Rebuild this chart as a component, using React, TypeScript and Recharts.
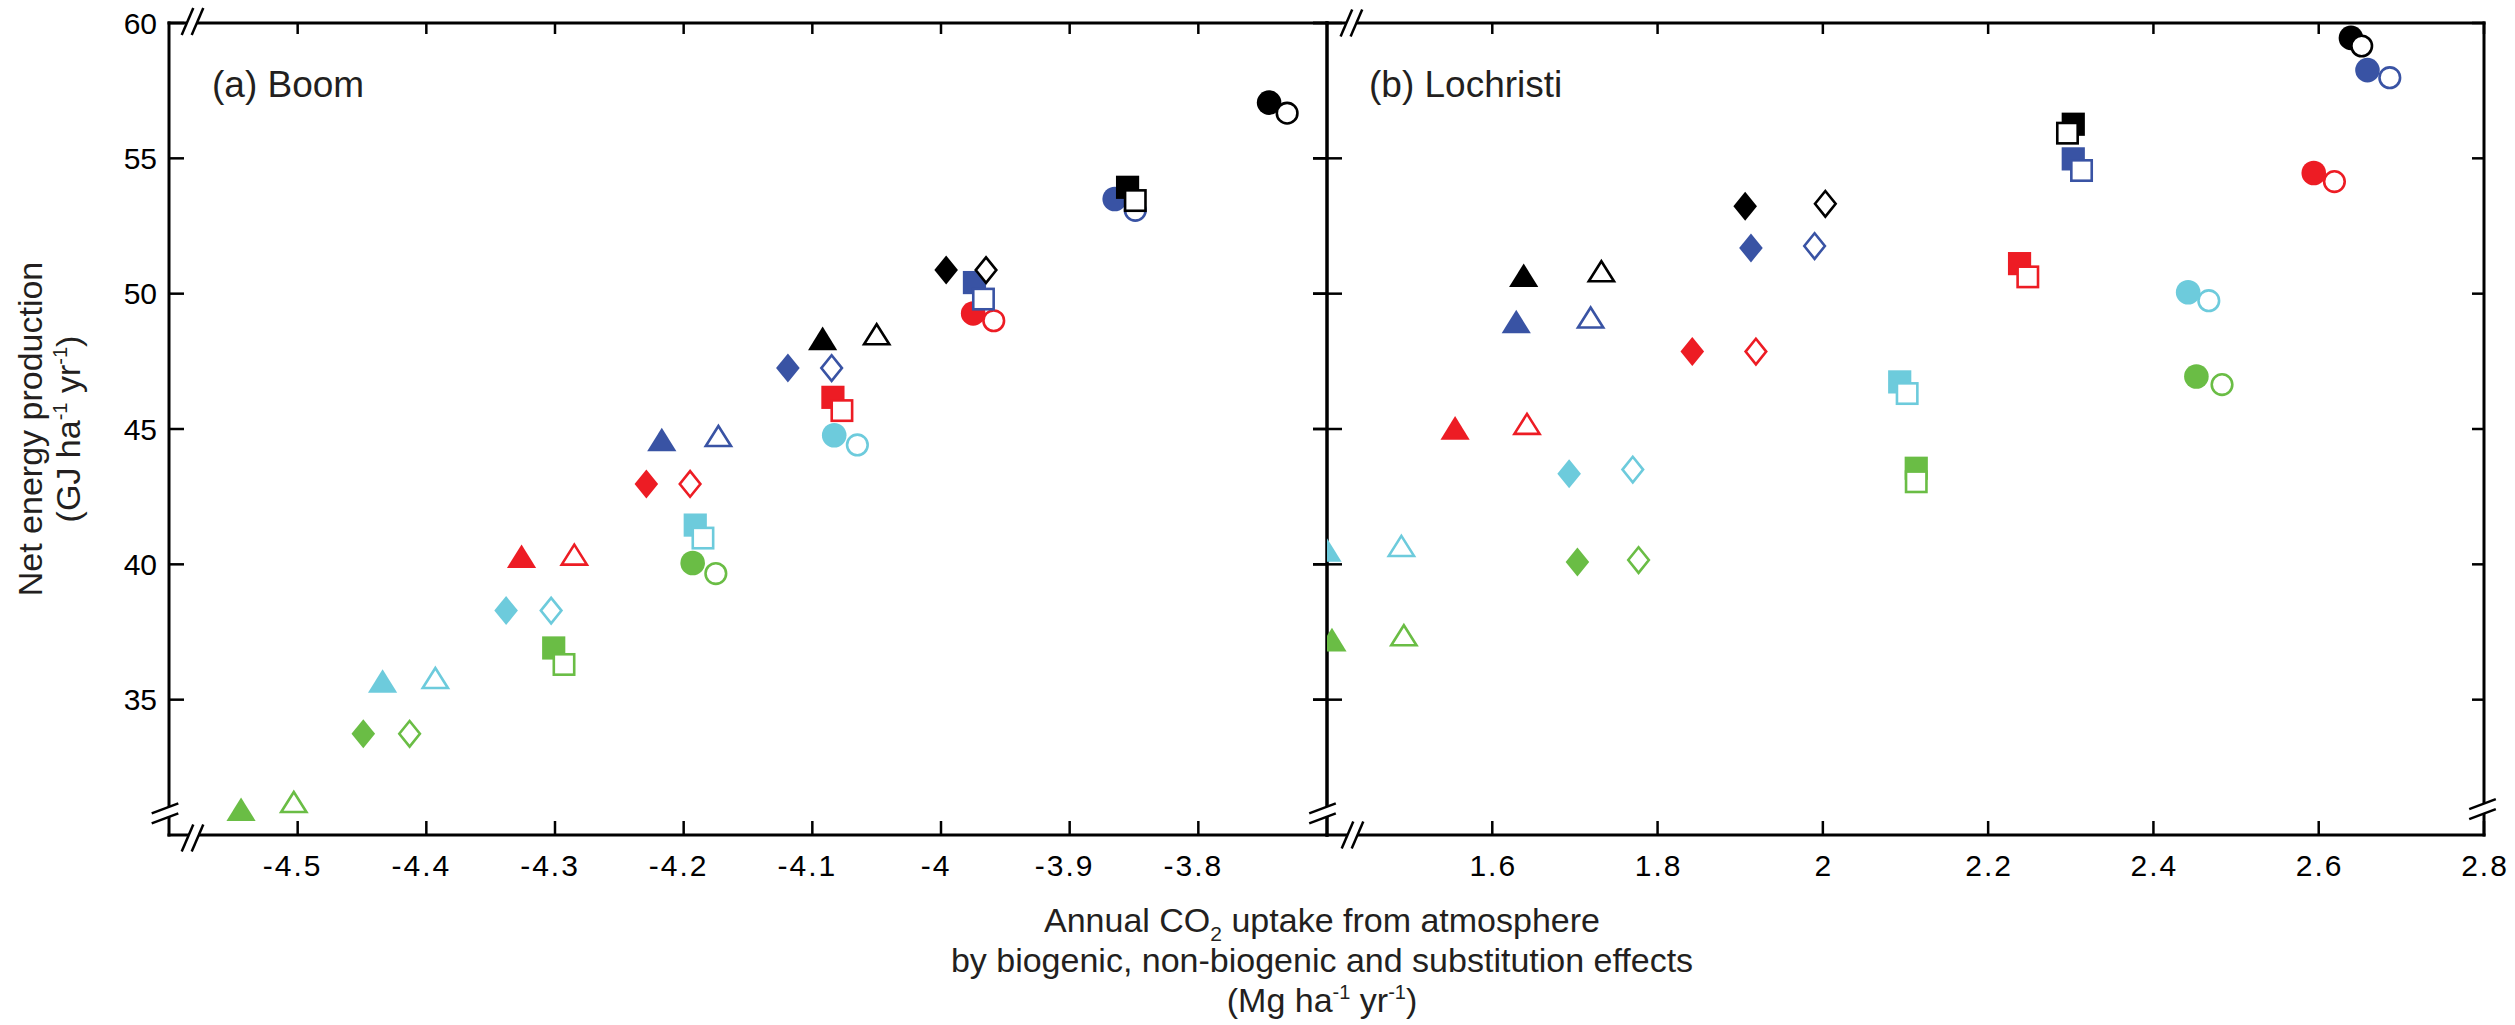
import React from 'react';
import { ScatterChart, Scatter, XAxis, YAxis, ReferenceDot } from 'recharts';

const FONT = '"Liberation Sans", Arial, Helvetica, sans-serif';
const INK = '#000000';
const TITLE_INK = '#231f20';

// colours of the five series, in the order of every point array below
const seriesColors = ['#000000', '#3953a4', '#ed1c24', '#6dcbdc', '#6abd45'];

type Pt = [number, number];

// (a) Boom : [annual CO2 uptake, net energy production]
const boomCircleFilled: Pt[] = [[-3.745, 57.06], [-3.865, 53.5], [-3.975, 49.27], [-4.083, 44.77], [-4.193, 40.05]];
const boomCircleOpen: Pt[] = [[-3.731, 56.67], [-3.849, 53.08], [-3.959, 49.0], [-4.065, 44.41], [-4.175, 39.66]];
const boomSquareFilled: Pt[] = [[-3.855, 53.93], [-3.974, 50.41], [-4.084, 46.17], [-4.191, 41.45], [-4.301, 36.91]];
const boomSquareOpen: Pt[] = [[-3.849, 53.44], [-3.967, 49.8], [-4.077, 45.68], [-4.185, 40.97], [-4.293, 36.3]];
const boomDiamondFilled: Pt[] = [[-3.996, 50.87], [-4.119, 47.25], [-4.229, 42.97], [-4.338, 38.29], [-4.449, 33.74]];
const boomDiamondOpen: Pt[] = [[-3.965, 50.87], [-4.085, 47.25], [-4.195, 42.97], [-4.303, 38.29], [-4.413, 33.74]];
const boomTriangleFilled: Pt[] = [[-4.092, 48.35], [-4.217, 44.61], [-4.326, 40.3], [-4.434, 35.69], [-4.544, 30.95]];
const boomTriangleOpen: Pt[] = [[-4.05, 48.5], [-4.173, 44.74], [-4.285, 40.36], [-4.393, 35.8], [-4.503, 31.22]];

// (b) Lochristi
const lochCircleFilled: Pt[] = [[2.639, 59.45], [2.659, 58.26], [2.594, 54.46], [2.442, 50.05], [2.452, 46.94]];
const lochCircleOpen: Pt[] = [[2.652, 59.15], [2.686, 57.98], [2.619, 54.14], [2.467, 49.74], [2.483, 46.64]];
const lochSquareFilled: Pt[] = [[2.303, 56.26], [2.303, 54.98], [2.238, 51.11], [2.093, 46.74], [2.113, 43.55]];
const lochSquareOpen: Pt[] = [[2.296, 55.93], [2.313, 54.55], [2.248, 50.62], [2.102, 46.31], [2.113, 43.05]];
const lochDiamondFilled: Pt[] = [[1.906, 53.23], [1.913, 51.69], [1.842, 47.86], [1.693, 43.35], [1.703, 40.09]];
const lochDiamondOpen: Pt[] = [[2.003, 53.32], [1.99, 51.76], [1.919, 47.86], [1.77, 43.5], [1.777, 40.16]];
const lochTriangleFilled: Pt[] = [[1.638, 50.68], [1.629, 48.97], [1.555, 45.04], [1.4, 40.53], [1.406, 37.22]];
const lochTriangleOpen: Pt[] = [[1.732, 50.83], [1.719, 49.12], [1.642, 45.19], [1.49, 40.68], [1.493, 37.38]];

// axes
const yDomain: [number, number] = [30, 60];
const yTicks = [35, 40, 45, 50, 55, 60];
const boomXDomain: [number, number] = [-4.6, -3.7];
const boomXTicks = [-4.5, -4.4, -4.3, -4.2, -4.1, -4, -3.9, -3.8];
const lochXDomain: [number, number] = [1.4, 2.8];
const lochXTicks = [1.6, 1.8, 2, 2.2, 2.4, 2.6, 2.8];

type Shape = 'circle' | 'square' | 'diamond' | 'triangle';
type Group = { shape: Shape; filled: boolean; pts: Pt[] };

const boomGroups: Group[] = [
  { shape: 'circle', filled: true, pts: boomCircleFilled },
  { shape: 'circle', filled: false, pts: boomCircleOpen },
  { shape: 'square', filled: true, pts: boomSquareFilled },
  { shape: 'square', filled: false, pts: boomSquareOpen },
  { shape: 'diamond', filled: true, pts: boomDiamondFilled },
  { shape: 'diamond', filled: false, pts: boomDiamondOpen },
  { shape: 'triangle', filled: true, pts: boomTriangleFilled },
  { shape: 'triangle', filled: false, pts: boomTriangleOpen },
];
const lochGroups: Group[] = [
  { shape: 'circle', filled: true, pts: lochCircleFilled },
  { shape: 'circle', filled: false, pts: lochCircleOpen },
  { shape: 'square', filled: true, pts: lochSquareFilled },
  { shape: 'square', filled: false, pts: lochSquareOpen },
  { shape: 'diamond', filled: true, pts: lochDiamondFilled },
  { shape: 'diamond', filled: false, pts: lochDiamondOpen },
  { shape: 'triangle', filled: true, pts: lochTriangleFilled },
  { shape: 'triangle', filled: false, pts: lochTriangleOpen },
];

const toData = (pts: Pt[]) => pts.map(([x, y], i) => ({ x, y, color: seriesColors[i] }));

const makeShape = (shape: Shape, filled: boolean) => (props: any) => {
  const { cx, cy, payload } = props;
  if (cx == null || cy == null || isNaN(cx) || isNaN(cy)) return <g />;
  const color = payload.color;
  const fill = filled ? color : '#ffffff';
  const stroke = filled ? 'none' : color;
  const sw = filled ? 0 : 2.6;
  if (shape === 'circle') {
    return <circle cx={cx} cy={cy} r={filled ? 12.3 : 10.3} fill={fill} stroke={stroke} strokeWidth={sw} />;
  }
  if (shape === 'square') {
    const h = filled ? 11.6 : 10.2;
    return <rect x={cx - h} y={cy - h} width={2 * h} height={2 * h} fill={fill} stroke={stroke} strokeWidth={sw} />;
  }
  if (shape === 'diamond') {
    const w = filled ? 11.8 : 10.3;
    const h = filled ? 14.5 : 12.8;
    return (
      <polygon
        points={`${cx},${cy - h} ${cx + w},${cy} ${cx},${cy + h} ${cx - w},${cy}`}
        fill={fill}
        stroke={stroke}
        strokeWidth={sw}
      />
    );
  }
  const w = filled ? 14.6 : 12.6;
  const h = filled ? 11.8 : 10.0;
  return (
    <polygon
      points={`${cx},${cy - h} ${cx + w},${cy + h} ${cx - w},${cy + h}`}
      fill={fill}
      stroke={stroke}
      strokeWidth={sw}
    />
  );
};

const AXIS_LINE = { stroke: INK, strokeWidth: 3, strokeLinecap: 'square' as const };
const TICK_W = 2.5;

const bottomTick = (props: any) => {
  const { x, y, payload } = props;
  const v = payload.value as number;
  return (
    <g>
      <line x1={x} y1={y} x2={x} y2={y - 14} stroke={INK} strokeWidth={TICK_W} />
      <text
        x={x + (v < 0 ? -5 : 1)}
        y={y + 41}
        textAnchor="middle"
        fontSize={30}
        letterSpacing={2}
        fontFamily={FONT}
        fill={INK}
      >
        {String(v)}
      </text>
    </g>
  );
};

const topTick = (props: any) => {
  const { x, y } = props;
  return <line x1={x} y1={y} x2={x} y2={y + 11} stroke={INK} strokeWidth={TICK_W} />;
};

const makeLeftTick = (showLabel: boolean, outward: number) => (props: any) => {
  const { x, y, payload } = props;
  return (
    <g>
      <line x1={x - outward} y1={y} x2={x + 15} y2={y} stroke={INK} strokeWidth={TICK_W} />
      {showLabel ? (
        <text x={x - 12} y={y + 10.5} textAnchor="end" fontSize={30} fontFamily={FONT} fill={INK}>
          {String(payload.value)}
        </text>
      ) : null}
    </g>
  );
};

const makeRightTick = (len: number) => (props: any) => {
  const { x, y } = props;
  return <line x1={x} y1={y} x2={x - len} y2={y} stroke={INK} strokeWidth={TICK_W} />;
};

const XBreak = ({ x, y }: { x: number; y: number }) => (
  <g>
    <polygon points={`${x - 10.8},${y + 13.5} ${x + 0.8},${y - 13.5} ${x + 10.8},${y - 13.5} ${x - 0.8},${y + 13.5}`} fill="#ffffff" />
    <line x1={x - 10.8} y1={y + 13.5} x2={x + 0.8} y2={y - 13.5} stroke={INK} strokeWidth={2.5} />
    <line x1={x - 0.8} y1={y + 13.5} x2={x + 10.8} y2={y - 13.5} stroke={INK} strokeWidth={2.5} />
  </g>
);

const YBreak = ({ x, y }: { x: number; y: number }) => (
  <g>
    <polygon points={`${x - 13.3},${y} ${x + 13.3},${y - 10} ${x + 13.3},${y} ${x - 13.3},${y + 10}`} fill="#ffffff" />
    <line x1={x - 13.3} y1={y} x2={x + 13.3} y2={y - 10} stroke={INK} strokeWidth={2.5} />
    <line x1={x - 13.3} y1={y + 10} x2={x + 13.3} y2={y} stroke={INK} strokeWidth={2.5} />
  </g>
);

type BreakSpec = { kind: 'x' | 'y'; dx: number; dy: number };

type PanelProps = {
  left: number;
  width: number;
  marginRight: number;
  yAxisWidth: number;
  xDomain: [number, number];
  xTicks: number[];
  groups: Group[];
  showYLabels: boolean;
  leftTickOutward: number;
  rightTickLen: number;
  bottomLeftBreaks: BreakSpec[];
  topLeftBreaks: BreakSpec[];
  bottomRightBreaks: BreakSpec[];
};

const cornerShape = (specs: BreakSpec[]) => (p: any) => {
  const { cx, cy } = p;
  if (cx == null || cy == null) return <g />;
  return (
    <g>
      {specs.map((s, i) =>
        s.kind === 'x' ? <XBreak key={i} x={cx + s.dx} y={cy + s.dy} /> : <YBreak key={i} x={cx + s.dx} y={cy + s.dy} />
      )}
    </g>
  );
};

function Panel(p: PanelProps) {
  return (
    <div style={{ position: 'absolute', left: p.left, top: 0 }}>
      <ScatterChart width={p.width} height={1025} margin={{ top: 22, right: p.marginRight, bottom: 140, left: 0 }}>
        <XAxis
          xAxisId="b"
          type="number"
          dataKey="x"
          orientation="bottom"
          domain={p.xDomain}
          ticks={p.xTicks}
          interval={0}
          allowDataOverflow
          height={50}
          tickSize={0}
          tickMargin={0}
          tickLine={false}
          axisLine={AXIS_LINE}
          tick={bottomTick}
        />
        <XAxis
          xAxisId="t"
          type="number"
          dataKey="x"
          orientation="top"
          domain={p.xDomain}
          ticks={p.xTicks}
          interval={0}
          allowDataOverflow
          height={1}
          tickSize={0}
          tickMargin={0}
          tickLine={false}
          axisLine={AXIS_LINE}
          tick={topTick}
        />
        <YAxis
          yAxisId="l"
          type="number"
          dataKey="y"
          orientation="left"
          domain={yDomain}
          ticks={yTicks}
          interval={0}
          allowDataOverflow
          width={p.yAxisWidth}
          tickSize={0}
          tickMargin={0}
          tickLine={false}
          axisLine={AXIS_LINE}
          tick={makeLeftTick(p.showYLabels, p.leftTickOutward)}
        />
        <YAxis
          yAxisId="r"
          type="number"
          dataKey="y"
          orientation="right"
          domain={yDomain}
          ticks={yTicks}
          interval={0}
          allowDataOverflow
          width={1}
          tickSize={0}
          tickMargin={0}
          tickLine={false}
          axisLine={AXIS_LINE}
          tick={makeRightTick(p.rightTickLen)}
        />
        {p.groups.map((g, i) => (
          <Scatter
            key={i}
            xAxisId="b"
            yAxisId="l"
            data={toData(g.pts)}
            shape={makeShape(g.shape, g.filled)}
            isAnimationActive={false}
          />
        ))}
        <ReferenceDot
          xAxisId="b"
          yAxisId="l"
          x={p.xDomain[0]}
          y={yDomain[0]}
          ifOverflow="visible"
          shape={cornerShape(p.bottomLeftBreaks)}
        />
        <ReferenceDot
          xAxisId="b"
          yAxisId="l"
          x={p.xDomain[0]}
          y={yDomain[1]}
          ifOverflow="visible"
          shape={cornerShape(p.topLeftBreaks)}
        />
        <ReferenceDot
          xAxisId="b"
          yAxisId="l"
          x={p.xDomain[1]}
          y={yDomain[0]}
          ifOverflow="visible"
          shape={cornerShape(p.bottomRightBreaks)}
        />
      </ScatterChart>
    </div>
  );
}

export default function App() {
  return (
    <div style={{ position: 'absolute', left: 0, top: 0, width: 2515, height: 1025, background: '#ffffff', overflow: 'hidden' }}>
      <Panel
        left={0}
        width={1348}
        marginRight={20}
        yAxisWidth={169}
        xDomain={boomXDomain}
        xTicks={boomXTicks}
        groups={boomGroups}
        showYLabels={true}
        leftTickOutward={1}
        rightTickLen={14}
        bottomLeftBreaks={[
          { kind: 'y', dx: -4, dy: -21.7 },
          { kind: 'x', dx: 23.5, dy: 3 },
        ]}
        topLeftBreaks={[{ kind: 'x', dx: 23.5, dy: -1.6 }]}
        bottomRightBreaks={[]}
      />
      <Panel
        left={1300}
        width={1215}
        marginRight={30}
        yAxisWidth={27}
        xDomain={lochXDomain}
        xTicks={lochXTicks}
        groups={lochGroups}
        showYLabels={false}
        leftTickOutward={14}
        rightTickLen={12}
        bottomLeftBreaks={[
          { kind: 'y', dx: -4.5, dy: -21.7 },
          { kind: 'x', dx: 25.5, dy: 0 },
        ]}
        topLeftBreaks={[{ kind: 'x', dx: 24.4, dy: 0 }]}
        bottomRightBreaks={[{ kind: 'y', dx: -1.5, dy: -25.8 }]}
      />
      <svg
        width={2515}
        height={1025}
        style={{ position: 'absolute', left: 0, top: 0, pointerEvents: 'none' }}
        fontFamily={FONT}
        fill={TITLE_INK}
      >
        <text x={212} y={97} fontSize={37}>(a) Boom</text>
        <text x={1369} y={97} fontSize={37}>(b) Lochristi</text>

        <text x={42} y={429} fontSize={34} textAnchor="middle" transform="rotate(-90, 42, 429)">
          Net energy production
        </text>
        <text x={80} y={429} fontSize={34} textAnchor="middle" transform="rotate(-90, 80, 429)">
          (GJ ha<tspan fontSize={20} dy={-13}>-1</tspan>
          <tspan dy={13}> yr</tspan>
          <tspan fontSize={20} dy={-13}>-1</tspan>
          <tspan dy={13}>)</tspan>
        </text>

        <text x={1322} y={932} fontSize={34} textAnchor="middle">
          Annual CO<tspan fontSize={21} dy={9}>2</tspan>
          <tspan dy={-9}> uptake from atmosphere</tspan>
        </text>
        <text x={1322} y={972} fontSize={34} textAnchor="middle">
          by biogenic, non-biogenic and substitution effects
        </text>
        <text x={1322} y={1012} fontSize={34} textAnchor="middle">
          (Mg ha<tspan fontSize={20} dy={-13}>-1</tspan>
          <tspan dy={13}> yr</tspan>
          <tspan fontSize={20} dy={-13}>-1</tspan>
          <tspan dy={13}>)</tspan>
        </text>
      </svg>
    </div>
  );
}
